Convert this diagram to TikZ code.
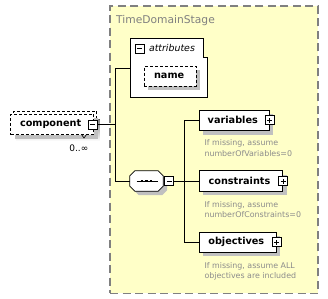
\documentclass[tikz,border=0pt]{standalone}
\usepackage{fontspec}
\setmainfont{DejaVu Sans}
\usetikzlibrary{shadows}
\definecolor{panel}{RGB}{255,255,200}
\definecolor{frame}{RGB}{128,128,128}
\definecolor{shade}{RGB}{192,192,192}
\definecolor{note}{RGB}{140,140,140}
\tikzset{
  boxshadow/.style={general shadow={fill=shade, shadow xshift=4pt, shadow yshift=-4pt}},
  elem/.style={draw, line width=0.8pt, fill=white, inner sep=0pt,
    font=\fontsize{9.7}{11}\selectfont\bfseries, boxshadow},
  optelem/.style={elem, dash pattern=on 3pt off 2pt},
  conn/.style={draw, line width=0.8pt},
  tog/.style={draw, line width=0.7pt, fill=white, minimum size=9pt, inner sep=0pt},
  minus/.style={tog, path picture={\draw[line width=0.7pt]
    ([xshift=2pt]path picture bounding box.west) -- ([xshift=-2pt]path picture bounding box.east);}},
  plus/.style={tog, path picture={\draw[line width=0.7pt]
    ([xshift=2pt]path picture bounding box.west) -- ([xshift=-2pt]path picture bounding box.east)
    ([yshift=2pt]path picture bounding box.south) -- ([yshift=-2pt]path picture bounding box.north);}},
  notetext/.style={anchor=base west, inner sep=0pt, text=note, font=\fontsize{7.9}{9}\selectfont},
}
\begin{document}
\begin{tikzpicture}[x=1pt, y=-1pt]
\useasboundingbox (0,0) rectangle (328,298);

% complex type container
\node[draw=frame, fill=panel, line width=1.4pt, dash pattern=on 8pt off 4.5pt,
      minimum width=208pt, minimum height=287.4pt, anchor=north west, inner sep=0pt]
  (stage) at (109.3,5.3) {};
\node[anchor=base west, inner sep=0pt, text=frame, font=\fontsize{10.7}{12}\selectfont]
  (title) at (116,23) {TimeDomainStage};

% repeated optional element "component"
\fill[shade] (16.5,119) rectangle (99.5,141);
\node[draw, fill=white, line width=0.8pt, dash pattern=on 3pt off 2pt,
      minimum width=82.8pt, minimum height=20.5pt, inner sep=0pt]
  (compback) at (55.1,121.2) {};
\node[optelem, boxshadow/.style={}, minimum width=82.8pt, minimum height=20.5pt]
  (comp) at (52.1,124.25) {component\kern3pt};
\node[minus] (compm) at (92.8,124.5) {};
\draw[line width=0.6pt] (81.5,134.5) -- (84,138) -- (86.5,134.5);
\node[anchor=base east, inner sep=0pt, font=\fontsize{9}{10}\selectfont]
  (occ) at (88.5,151.8) {0..∞};

% attribute group
\node[minimum width=77pt, minimum height=59pt, anchor=north west, inner sep=0pt]
  (attr) at (130.3,38.3) {};
\draw[line width=0.8pt, fill=white]
  (attr.north west) -- ([xshift=-4pt]attr.north east)
  -- ([xshift=-4pt, yshift=-19.4pt]attr.north east)
  -- ([yshift=-19.4pt]attr.north east) -- (attr.south east)
  -- (attr.south west) -- cycle;
\node[minus] (attrm) at (139.5,48.5) {};
\node[anchor=west, inner sep=0pt, font=\fontsize{9.4}{11}\selectfont\itshape]
  (attrlbl) at (148.8,48.3) {attributes};
\node[optelem, minimum width=51.7pt, minimum height=20pt]
  (name) at (170.15,76) {name\kern2pt};

% sequence compositor
\node[minimum width=33pt, minimum height=20pt, inner sep=0pt] (seq) at (146.5,181) {};
\draw[line width=0.8pt, fill=white, boxshadow]
  ([xshift=5pt]seq.north west) -- ([xshift=-5pt]seq.north east)
  -- ([yshift=-5pt]seq.north east) -- ([yshift=5pt]seq.south east)
  -- ([xshift=-5pt]seq.south east) -- ([xshift=5pt]seq.south west)
  -- ([yshift=5pt]seq.south west) -- ([yshift=-5pt]seq.north west) -- cycle;
\draw[line width=1pt] ([xshift=-10pt]seq.center) -- ([xshift=11pt]seq.center);
\foreach \dx in {-4.5,0,4.5}
  \fill ([xshift=\dx pt]seq.center) ++(-1.3,-1.3) rectangle ++(2.6,2.6);
\node[minus] (seqm) at (169.3,181) {};

% child elements
\node[elem, minimum width=70pt, minimum height=20.5pt] (var) at (234.3,120.3) {variables\kern3pt};
\node[plus] (varp) at (var.east) {};
\node[elem, minimum width=83.4pt, minimum height=20.3pt] (con) at (241,181) {constraints\kern3pt};
\node[plus] (conp) at (con.east) {};
\node[elem, minimum width=77pt, minimum height=20pt] (obj) at (237.8,242.3) {objectives\kern3pt};
\node[plus] (objp) at (obj.east) {};

% annotations
\node[notetext] (varn1) at (204.3,145.7) {If missing, assume};
\node[notetext] (varn2) at (204.3,156.3) {numberOfVariables=0};
\node[notetext] (conn1) at (204.3,207) {If missing, assume};
\node[notetext] (conn2) at (204.3,217.7) {numberOfConstraints=0};
\node[notetext] (objn1) at (204.3,268) {If missing, assume ALL};
\node[notetext] (objn2) at (204.3,278.7) {objectives are included};

% connectors
\coordinate (j1) at (115.3,124.5);
\coordinate (j2) at (184.3,181);
\draw[conn] (compm) -- (j1);
\draw[conn] (j1) |- (attr.west);
\draw[conn] (j1) |- (seq.west);
\draw[conn] (seqm) -- (j2);
\draw[conn] (j2) |- (var.west);
\draw[conn] (j2) |- (con.west);
\draw[conn] (j2) |- (obj.west);
\end{tikzpicture}
\end{document}
